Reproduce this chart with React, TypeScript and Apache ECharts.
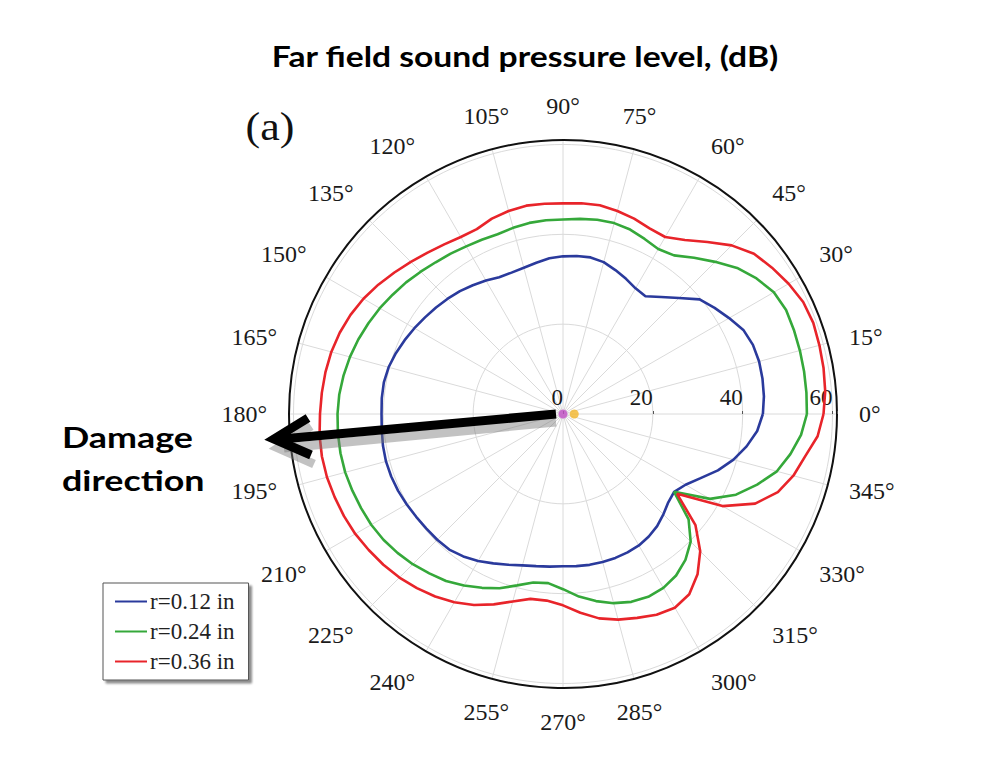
import React, { useEffect, useRef } from "react";
import * as echarts from "echarts";

// Angles (degrees) shared by all three curves
const angles: number[] = [
  0, 5, 10, 15, 20, 25, 30, 35, 40, 45, 50, 55, 60, 65, 70, 75, 80, 85, 90, 95,
  100, 105, 110, 115, 120, 125, 130, 135, 140, 145, 150, 155, 160, 165, 170, 175,
  180, 185, 190, 195, 200, 205, 210, 215, 220, 225, 230, 235, 240, 245, 250, 255,
  260, 265, 270, 275, 280, 285, 290, 295, 300, 305, 310, 315, 320, 325, 330, 335,
  340, 345, 350, 355, 360,
];

// Sound pressure level (dB) for r = 0.12 in
const splR012: number[] = [
  44.5, 44.9, 45.1, 45.2, 45.0, 44.3, 42.7, 41.2, 39.7, 36.5, 34.0, 32.0, 32.3, 33.2,
  34.1, 35.0, 35.4, 35.3, 35.1, 34.8, 34.2, 33.7, 33.5, 33.6, 34.3, 35.0, 35.7, 36.3,
  36.9, 37.5, 38.2, 38.9, 39.6, 40.2, 40.5, 40.5, 40.4, 40.5, 40.7, 40.8, 40.7, 40.5,
  40.2, 39.9, 39.7, 39.6, 39.4, 38.7, 37.8, 36.7, 35.7, 34.9, 34.4, 34.1, 33.9, 34.0,
  34.1, 34.1, 34.1, 34.0, 33.8, 33.3, 32.6, 31.6, 30.6, 30.2, 31.5, 33.8, 36.7, 39.3,
  41.5, 43.4, 44.5,
];

// Sound pressure level (dB) for r = 0.24 in
const splR024: number[] = [
  54.3, 54.4, 54.5, 54.6, 54.7, 54.8, 54.2, 52.6, 50.6, 47.9, 45.4, 43.1, 42.4, 43.0,
  43.7, 44.0, 43.9, 43.6, 43.3, 43.3, 43.2, 42.9, 42.6, 42.8, 43.1, 43.6, 44.1, 44.8,
  45.6, 46.3, 47.1, 47.8, 48.5, 49.1, 49.6, 50.0, 50.2, 50.3, 50.3, 50.2, 49.9, 49.6,
  49.3, 48.8, 48.1, 47.3, 46.3, 45.4, 44.1, 42.7, 41.3, 39.5, 38.1, 37.8, 39.0, 40.8,
  42.3, 43.6, 44.5, 44.9, 44.7, 43.9, 42.4, 40.2, 36.5, 30.2, 37.8, 42.5, 46.0, 49.3,
  51.4, 53.2, 54.3,
];

// Sound pressure level (dB) for r = 0.36 in
const splR036: number[] = [
  58.0, 58.6, 58.9, 59.1, 59.3, 59.0, 58.0, 56.8, 55.5, 53.1, 50.0, 47.3, 45.5, 45.6,
  46.3, 46.8, 47.2, 47.1, 46.9, 47.0, 47.1, 46.8, 46.3, 45.4, 45.5, 46.1, 46.9, 47.9,
  49.0, 50.2, 51.3, 52.2, 52.9, 53.4, 53.7, 53.9, 54.1, 54.4, 54.5, 54.4, 54.1, 53.8,
  53.4, 52.8, 52.2, 51.5, 50.6, 49.6, 48.4, 46.9, 45.1, 43.2, 41.8, 41.7, 42.6, 44.4,
  46.2, 47.4, 48.3, 49.3, 49.8, 49.0, 46.6, 43.2, 38.5, 31.0, 41.0, 47.2, 50.9, 53.1,
  54.7, 56.9, 58.0,
];

const seriesNames: string[] = ["r=0.12 in", "r=0.24 in", "r=0.36 in"];
const seriesColors: string[] = ["#2a3a9c", "#35a83a", "#e8242a"];

// Two small markers near the origin: [radius, angle]
const centerDots: number[][] = [
  [0, 0],
  [2.5, 0],
];
const centerDotColors: string[] = ["#c24fc6", "#f2b52a"];

const SERIF = "'Liberation Serif', 'Times New Roman', serif";
const SANS = "Lato, 'Open Sans', sans-serif";

export default function App() {
  const ref = useRef<HTMLDivElement>(null);

  useEffect(() => {
    if (!ref.current) return;
    const chart = echarts.init(ref.current, undefined, { renderer: "svg" });
    const values = [splR012, splR024, splR036];

    const lineSeries = values.map((vals, i) => ({
      name: seriesNames[i],
      type: "line",
      coordinateSystem: "polar",
      data: angles.map((a, k) => [vals[k], a]),
      symbol: "none",
      showSymbol: false,
      smooth: false,
      lineStyle: { color: seriesColors[i], width: 2.6 },
      itemStyle: { color: seriesColors[i] },
      z: 3,
    }));

    const dotSeries = centerDots.map((d, i) => ({
      name: "dot" + i,
      type: "scatter",
      coordinateSystem: "polar",
      data: [d],
      symbol: "circle",
      symbolSize: 9,
      itemStyle: { color: centerDotColors[i] },
      z: 4,
    }));

    chart.setOption({
      animation: false,
      backgroundColor: "#ffffff",
      polar: { center: [563, 414], radius: 274 },
      angleAxis: {
        type: "value",
        min: 0,
        max: 360,
        interval: 15,
        startAngle: 0,
        clockwise: false,
        axisLine: { show: true, lineStyle: { color: "#111", width: 2 } },
        axisTick: { show: false },
        splitLine: { show: true, lineStyle: { color: "#dadada", width: 1 } },
        axisLabel: {
          margin: 22,
          fontFamily: SERIF,
          fontSize: 24,
          color: "#1a1a1a",
          formatter: (v: number) => (v >= 360 ? "" : v + "°"),
        },
      },
      radiusAxis: {
        type: "value",
        min: 0,
        max: 61,
        interval: 20,
        axisLine: { show: false },
        axisTick: { show: true, length: 3, lineStyle: { color: "#555" } },
        splitLine: { show: true, lineStyle: { color: "#dadada", width: 1 } },
        axisLabel: {
          margin: 5,
          align: "right",
          fontFamily: SERIF,
          fontSize: 23,
          color: "#1a1a1a",
          formatter: (v: number) => (v % 20 === 0 ? String(v) : ""),
        },
      },
      legend: {
        data: seriesNames,
        orient: "vertical",
        left: 103,
        top: 583,
        padding: [7, 14, 7, 12],
        itemGap: 7,
        itemWidth: 32,
        itemHeight: 2,
        icon: "rect",
        backgroundColor: "#ffffff",
        borderColor: "#555",
        borderWidth: 1,
        borderRadius: 0,
        shadowColor: "rgba(0,0,0,0.45)",
        shadowBlur: 2,
        shadowOffsetX: 3,
        shadowOffsetY: 3,
        textStyle: { fontFamily: SERIF, fontSize: 23, color: "#222", padding: [0, 0, 0, -2] },
      },
      graphic: [
        {
          type: "text",
          x: 525,
          y: 56,
          scaleX: 1.16,
          style: {
            text: "Far field sound pressure level, (dB)",
            fontFamily: SANS,
            fontWeight: "bold",
            fontSize: 29,
            fill: "#000",
            align: "center",
            verticalAlign: "middle",
          },
        },
        {
          type: "text",
          x: 270,
          y: 127,
          scaleX: 1.1,
          style: {
            text: "(a)",
            fontFamily: SERIF,
            fontSize: 40,
            fill: "#111",
            align: "center",
            verticalAlign: "middle",
          },
        },
        {
          type: "text",
          x: 62,
          y: 437,
          scaleX: 1.28,
          style: {
            text: "Damage",
            fontFamily: SANS,
            fontWeight: "bold",
            fontSize: 28,
            fill: "#000",
            align: "left",
            verticalAlign: "middle",
          },
        },
        {
          type: "text",
          x: 62,
          y: 480,
          scaleX: 1.28,
          style: {
            text: "direction",
            fontFamily: SANS,
            fontWeight: "bold",
            fontSize: 28,
            fill: "#000",
            align: "left",
            verticalAlign: "middle",
          },
        },
        // arrow shadow
        {
          type: "line",
          z: 10,
          shape: { x1: 556, y1: 422, x2: 284, y2: 448 },
          style: { stroke: "rgba(120,120,120,0.45)", lineWidth: 9 },
        },
        {
          type: "polyline",
          z: 10,
          shape: { points: [[311, 426], [278, 448], [314, 464]] },
          style: { stroke: "rgba(120,120,120,0.45)", lineWidth: 9, fill: "none" },
        },
        // arrow
        {
          type: "line",
          z: 11,
          shape: { x1: 556, y1: 414, x2: 282, y2: 439 },
          style: { stroke: "#000", lineWidth: 9 },
        },
        {
          type: "polyline",
          z: 11,
          shape: { points: [[308, 418], [274, 439], [311, 455]] },
          style: { stroke: "#000", lineWidth: 9, fill: "none", lineJoin: "miter" },
        },
      ],
      series: [...lineSeries, ...dotSeries],
    });

    return () => chart.dispose();
  }, []);

  return (
    <div
      ref={ref}
      style={{ position: "fixed", left: 0, top: 0, width: 984, height: 765, background: "#fff" }}
    />
  );
}
